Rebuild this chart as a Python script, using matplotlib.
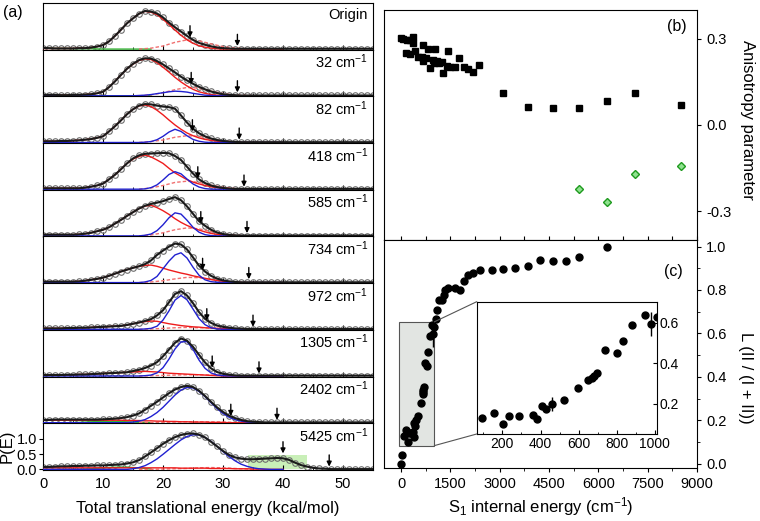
import matplotlib.pyplot as plt
from matplotlib.ticker import MultipleLocator
from matplotlib.patches import Rectangle, ConnectionPatch

plt.rcParams['font.family'] = ['Liberation Sans', 'DejaVu Sans']
plt.rcParams['mathtext.fontset'] = 'custom'
plt.rcParams['mathtext.rm'] = 'Liberation Sans'
plt.rcParams['mathtext.it'] = 'Liberation Sans:italic'

# ---------------- panel (a): P(E) distributions ----------------
labels_a = ['Origin', '32 cm$^{-1}$', '82 cm$^{-1}$', '418 cm$^{-1}$', '585 cm$^{-1}$',
            '734 cm$^{-1}$', '972 cm$^{-1}$', '1305 cm$^{-1}$', '2402 cm$^{-1}$', '5425 cm$^{-1}$']

e_tot = list(range(56))     # kcal/mol, data points + total fit
e_comp = list(range(41))    # red / blue components
e_dash = list(range(16, 38, 2))
e_green = list(range(0, 20, 2))

tot = [
    [0.04, 0.03, 0.02, 0.02, 0.02, 0.02, 0.03, 0.03, 0.05, 0.08,
     0.13, 0.25, 0.43, 0.63, 0.84, 1.00, 1.15, 1.24, 1.22, 1.16,
     1.03, 0.86, 0.71, 0.57, 0.43, 0.30, 0.20, 0.14, 0.09, 0.05,
     0.03, 0.02, 0.01, 0.01, 0.01, 0.01, 0.01, 0.01, 0.01, 0.01,
     0.01, 0.01, 0.01, 0.01, 0.01, 0.01, 0.01, 0.01, 0.01, 0.01,
     0.01, 0.01, 0.01, 0.01, 0.01, 0.01],
    [0.03, 0.03, 0.03, 0.02, 0.02, 0.03, 0.03, 0.04, 0.05, 0.08,
     0.13, 0.28, 0.47, 0.68, 0.88, 1.04, 1.16, 1.22, 1.21, 1.13,
     1.02, 0.89, 0.76, 0.62, 0.50, 0.39, 0.29, 0.21, 0.14, 0.09,
     0.05, 0.03, 0.02, 0.01, 0.01, 0.01, 0.01, 0.01, 0.01, 0.01,
     0.01, 0.01, 0.01, 0.01, 0.01, 0.01, 0.01, 0.01, 0.01, 0.01,
     0.01, 0.01, 0.01, 0.01, 0.01, 0.01],
    [0.04, 0.04, 0.04, 0.05, 0.05, 0.06, 0.07, 0.09, 0.11, 0.15,
     0.20, 0.36, 0.53, 0.72, 0.92, 1.08, 1.20, 1.25, 1.24, 1.20,
     1.17, 1.15, 1.10, 0.88, 0.65, 0.45, 0.30, 0.20, 0.13, 0.08,
     0.05, 0.03, 0.02, 0.01, 0.01, 0.01, 0.01, 0.01, 0.01, 0.01,
     0.01, 0.01, 0.01, 0.01, 0.01, 0.01, 0.01, 0.01, 0.01, 0.01,
     0.01, 0.01, 0.01, 0.01, 0.01, 0.01],
    [0.03, 0.03, 0.03, 0.03, 0.03, 0.03, 0.03, 0.05, 0.08, 0.12,
     0.18, 0.32, 0.47, 0.65, 0.84, 1.00, 1.10, 1.15, 1.16, 1.17,
     1.18, 1.17, 1.08, 0.95, 0.73, 0.51, 0.32, 0.20, 0.12, 0.07,
     0.04, 0.02, 0.01, 0.01, 0.01, 0.01, 0.01, 0.01, 0.01, 0.01,
     0.01, 0.01, 0.01, 0.01, 0.01, 0.01, 0.01, 0.01, 0.01, 0.01,
     0.01, 0.01, 0.01, 0.01, 0.01, 0.01],
    [0.04, 0.04, 0.04, 0.04, 0.04, 0.04, 0.05, 0.07, 0.10, 0.15,
     0.20, 0.28, 0.40, 0.52, 0.65, 0.77, 0.89, 0.98, 1.04, 1.08,
     1.13, 1.20, 1.26, 1.16, 0.96, 0.72, 0.48, 0.33, 0.20, 0.11,
     0.06, 0.03, 0.02, 0.01, 0.01, 0.01, 0.01, 0.01, 0.01, 0.01,
     0.01, 0.01, 0.01, 0.01, 0.01, 0.01, 0.01, 0.01, 0.01, 0.01,
     0.01, 0.01, 0.01, 0.01, 0.01, 0.01],
    [0.03, 0.03, 0.03, 0.03, 0.03, 0.03, 0.04, 0.06, 0.09, 0.12,
     0.16, 0.22, 0.29, 0.36, 0.42, 0.48, 0.53, 0.60, 0.72, 0.90,
     1.04, 1.17, 1.27, 1.24, 1.08, 0.82, 0.55, 0.36, 0.22, 0.13,
     0.07, 0.04, 0.02, 0.01, 0.01, 0.01, 0.01, 0.01, 0.01, 0.01,
     0.01, 0.01, 0.01, 0.01, 0.01, 0.01, 0.01, 0.01, 0.01, 0.01,
     0.01, 0.01, 0.01, 0.01, 0.01, 0.01],
    [0.03, 0.03, 0.03, 0.03, 0.04, 0.04, 0.05, 0.05, 0.06, 0.07,
     0.08, 0.09, 0.10, 0.11, 0.14, 0.18, 0.22, 0.27, 0.33, 0.45,
     0.62, 0.88, 1.15, 1.24, 1.10, 0.85, 0.56, 0.34, 0.21, 0.12,
     0.08, 0.05, 0.03, 0.02, 0.01, 0.01, 0.01, 0.01, 0.01, 0.01,
     0.01, 0.01, 0.01, 0.01, 0.01, 0.01, 0.01, 0.01, 0.01, 0.01,
     0.01, 0.01, 0.01, 0.01, 0.01, 0.01],
    [0.03, 0.03, 0.03, 0.03, 0.04, 0.04, 0.05, 0.05, 0.06, 0.07,
     0.08, 0.09, 0.10, 0.11, 0.12, 0.16, 0.20, 0.26, 0.34, 0.45,
     0.64, 0.86, 1.08, 1.22, 1.15, 0.95, 0.69, 0.44, 0.25, 0.13,
     0.07, 0.04, 0.02, 0.01, 0.01, 0.01, 0.01, 0.01, 0.01, 0.01,
     0.01, 0.01, 0.01, 0.01, 0.01, 0.01, 0.01, 0.01, 0.01, 0.01,
     0.01, 0.01, 0.01, 0.01, 0.01, 0.01],
    [0.09, 0.09, 0.10, 0.10, 0.10, 0.10, 0.10, 0.10, 0.10, 0.10,
     0.11, 0.12, 0.13, 0.15, 0.18, 0.23, 0.30, 0.42, 0.55, 0.68,
     0.82, 0.96, 1.08, 1.16, 1.20, 1.16, 1.04, 0.87, 0.68, 0.50,
     0.35, 0.23, 0.15, 0.09, 0.05, 0.03, 0.02, 0.01, 0.01, 0.01,
     0.01, 0.01, 0.01, 0.01, 0.01, 0.01, 0.01, 0.01, 0.01, 0.01,
     0.01, 0.01, 0.01, 0.01, 0.01, 0.01],
    [0.08, 0.08, 0.09, 0.10, 0.10, 0.11, 0.11, 0.12, 0.12, 0.13,
     0.13, 0.14, 0.15, 0.16, 0.19, 0.23, 0.30, 0.42, 0.55, 0.69,
     0.83, 0.95, 1.05, 1.12, 1.16, 1.17, 1.13, 1.04, 0.90, 0.75,
     0.60, 0.47, 0.39, 0.35, 0.33, 0.33, 0.34, 0.35, 0.36, 0.37,
     0.36, 0.31, 0.22, 0.14, 0.09, 0.05, 0.03, 0.02, 0.01, 0.01,
     0.01, 0.01, 0.01, 0.01, 0.01, 0.01],
]

red = [
    [0.02, 0.02, 0.02, 0.02, 0.02, 0.02, 0.03, 0.03, 0.05, 0.08,
     0.13, 0.25, 0.43, 0.63, 0.84, 1.00, 1.15, 1.23, 1.20, 1.12,
     0.97, 0.80, 0.62, 0.45, 0.30, 0.19, 0.11, 0.06, 0.03, 0.01,
     0, 0, 0, 0, 0, 0, 0, 0, 0, 0, 0],
    [0.02, 0.02, 0.02, 0.02, 0.02, 0.02, 0.03, 0.04, 0.05, 0.08,
     0.13, 0.28, 0.47, 0.68, 0.88, 1.03, 1.15, 1.20, 1.18, 1.08,
     0.93, 0.77, 0.60, 0.45, 0.32, 0.21, 0.13, 0.08, 0.04, 0.02,
     0.01, 0, 0, 0, 0, 0, 0, 0, 0, 0, 0],
    [0.04, 0.04, 0.04, 0.05, 0.05, 0.06, 0.07, 0.09, 0.11, 0.15,
     0.20, 0.36, 0.53, 0.72, 0.92, 1.08, 1.19, 1.22, 1.17, 1.05,
     0.90, 0.73, 0.57, 0.43, 0.31, 0.22, 0.15, 0.10, 0.07, 0.04,
     0.03, 0.02, 0.01, 0, 0, 0, 0, 0, 0, 0, 0],
    [0.03, 0.03, 0.03, 0.03, 0.03, 0.03, 0.03, 0.05, 0.08, 0.12,
     0.18, 0.32, 0.47, 0.65, 0.84, 0.98, 1.07, 1.11, 1.05, 0.95,
     0.84, 0.68, 0.53, 0.42, 0.31, 0.23, 0.17, 0.12, 0.08, 0.05,
     0.03, 0.02, 0.01, 0, 0, 0, 0, 0, 0, 0, 0],
    [0.04, 0.04, 0.04, 0.04, 0.04, 0.04, 0.05, 0.07, 0.10, 0.15,
     0.20, 0.28, 0.40, 0.52, 0.65, 0.77, 0.89, 0.97, 1.00, 0.92,
     0.82, 0.70, 0.56, 0.44, 0.34, 0.26, 0.19, 0.13, 0.08, 0.05,
     0.03, 0.02, 0.01, 0, 0, 0, 0, 0, 0, 0, 0],
    [0.03, 0.03, 0.03, 0.03, 0.03, 0.03, 0.04, 0.06, 0.09, 0.12,
     0.16, 0.22, 0.29, 0.36, 0.42, 0.48, 0.53, 0.56, 0.57, 0.53,
     0.47, 0.41, 0.36, 0.31, 0.27, 0.22, 0.18, 0.14, 0.10, 0.07,
     0.04, 0.02, 0.01, 0, 0, 0, 0, 0, 0, 0, 0],
    [0.03, 0.03, 0.03, 0.03, 0.04, 0.04, 0.05, 0.05, 0.06, 0.07,
     0.08, 0.09, 0.10, 0.11, 0.14, 0.18, 0.22, 0.25, 0.27, 0.26,
     0.22, 0.18, 0.15, 0.12, 0.10, 0.08, 0.07, 0.05, 0.04, 0.03,
     0.02, 0.01, 0, 0, 0, 0, 0, 0, 0, 0, 0],
    [0.03, 0.03, 0.03, 0.03, 0.04, 0.04, 0.05, 0.05, 0.06, 0.07,
     0.08, 0.09, 0.10, 0.11, 0.12, 0.13, 0.14, 0.15, 0.14, 0.13,
     0.11, 0.09, 0.08, 0.07, 0.06, 0.05, 0.04, 0.03, 0.02, 0.01,
     0, 0, 0, 0, 0, 0, 0, 0, 0, 0, 0],
    [0.08, 0.08, 0.08, 0.08, 0.08, 0.08, 0.08, 0.08, 0.08, 0.08,
     0.08, 0.08, 0.08, 0.08, 0.07, 0.07, 0.07, 0.06, 0.06, 0.05,
     0.05, 0.04, 0.04, 0.03, 0.03, 0.02, 0.02, 0.02, 0.01, 0.01,
     0.01, 0, 0, 0, 0, 0, 0, 0, 0, 0, 0],
    [0.05, 0.05, 0.05, 0.05, 0.05, 0.05, 0.05, 0.05, 0.05, 0.05,
     0.05, 0.05, 0.05, 0.05, 0.05, 0.05, 0.05, 0.05, 0.05, 0.05,
     0.05, 0.05, 0.05, 0.04, 0.04, 0.04, 0.04, 0.04, 0.03, 0.03,
     0.03, 0.03, 0.02, 0.02, 0.02, 0.01, 0.01, 0, 0, 0, 0],
]

blue = [
    None,
    [0, 0, 0, 0, 0, 0, 0, 0, 0, 0,
     0, 0, 0, 0, 0, 0, 0.01, 0.02, 0.04, 0.07,
     0.10, 0.13, 0.15, 0.14, 0.12, 0.08, 0.05, 0.02, 0.01, 0,
     0, 0, 0, 0, 0, 0, 0, 0, 0, 0, 0],
    [0, 0, 0, 0, 0, 0, 0, 0, 0, 0,
     0, 0, 0, 0, 0, 0, 0, 0.01, 0.03, 0.09,
     0.20, 0.34, 0.43, 0.36, 0.22, 0.10, 0.04, 0.01, 0, 0,
     0, 0, 0, 0, 0, 0, 0, 0, 0, 0, 0],
    [0, 0, 0, 0, 0, 0, 0, 0, 0, 0,
     0, 0, 0, 0, 0, 0, 0, 0.01, 0.05, 0.14,
     0.30, 0.48, 0.57, 0.50, 0.33, 0.17, 0.07, 0.02, 0, 0,
     0, 0, 0, 0, 0, 0, 0, 0, 0, 0, 0],
    [0, 0, 0, 0, 0, 0, 0, 0, 0, 0,
     0, 0, 0, 0, 0, 0, 0, 0.02, 0.06, 0.17,
     0.36, 0.59, 0.75, 0.71, 0.51, 0.28, 0.12, 0.04, 0.01, 0,
     0, 0, 0, 0, 0, 0, 0, 0, 0, 0, 0],
    [0, 0, 0, 0, 0, 0, 0, 0, 0, 0,
     0, 0, 0, 0, 0, 0, 0, 0.02, 0.07, 0.20,
     0.45, 0.70, 0.90, 0.97, 0.80, 0.50, 0.24, 0.09, 0.03, 0.01,
     0, 0, 0, 0, 0, 0, 0, 0, 0, 0, 0],
    [0, 0, 0, 0, 0, 0, 0, 0, 0, 0,
     0, 0, 0, 0, 0, 0, 0, 0.01, 0.03, 0.10,
     0.30, 0.60, 0.95, 1.10, 0.96, 0.66, 0.35, 0.15, 0.05, 0.01,
     0, 0, 0, 0, 0, 0, 0, 0, 0, 0, 0],
    [0, 0, 0, 0, 0, 0, 0, 0, 0, 0,
     0, 0, 0, 0, 0, 0, 0, 0.01, 0.03, 0.10,
     0.27, 0.55, 0.88, 1.11, 1.12, 0.87, 0.52, 0.25, 0.10, 0.03,
     0.01, 0, 0, 0, 0, 0, 0, 0, 0, 0, 0],
    [0, 0, 0, 0, 0, 0, 0, 0, 0, 0,
     0, 0, 0, 0, 0, 0.02, 0.05, 0.10, 0.20, 0.33,
     0.50, 0.70, 0.90, 1.06, 1.15, 1.13, 1.02, 0.85, 0.65, 0.46,
     0.30, 0.18, 0.10, 0.05, 0.02, 0.01, 0, 0, 0, 0, 0],
    [0, 0, 0, 0, 0, 0, 0, 0, 0, 0,
     0, 0, 0, 0, 0, 0.02, 0.06, 0.12, 0.22, 0.34,
     0.49, 0.65, 0.81, 0.96, 1.07, 1.13, 1.12, 1.04, 0.91, 0.75,
     0.58, 0.42, 0.28, 0.17, 0.10, 0.05, 0.02, 0.01, 0, 0, 0],
]

dashed = [
    [0, 0.03, 0.10, 0.22, 0.30, 0.27, 0.17, 0.08, 0.03, 0.01, 0],
    [0, 0.03, 0.10, 0.20, 0.27, 0.25, 0.15, 0.07, 0.02, 0.01, 0],
    [0, 0.03, 0.08, 0.17, 0.22, 0.20, 0.12, 0.05, 0.02, 0, 0],
    [0, 0.04, 0.12, 0.22, 0.26, 0.22, 0.13, 0.06, 0.02, 0, 0],
    [0, 0.03, 0.10, 0.20, 0.26, 0.23, 0.14, 0.06, 0.02, 0, 0],
    [0, 0.02, 0.06, 0.12, 0.17, 0.16, 0.10, 0.05, 0.02, 0, 0],
    [0, 0.01, 0.03, 0.05, 0.06, 0.05, 0.04, 0.02, 0.01, 0, 0],
    [0, 0.01, 0.02, 0.03, 0.04, 0.04, 0.03, 0.02, 0.01, 0, 0],
    [0, 0, 0.01, 0.02, 0.03, 0.03, 0.03, 0.02, 0.01, 0, 0],
    [0, 0, 0.01, 0.02, 0.03, 0.05, 0.06, 0.05, 0.03, 0.01, 0],
]

green = [
    [0.03, 0.02, 0.02, 0.01, 0.01, 0, 0, 0, 0, 0],
    [0.02, 0.02, 0.01, 0, 0, 0, 0, 0, 0, 0],
    None, None, None, None, None, None,
    [0, 0, 0, 0.01, 0.03, 0.04, 0.04, 0.03, 0.01, 0],
    [0, 0, 0, 0, 0.02, 0.05, 0.07, 0.07, 0.05, 0.01],
]

arrow1_e = [24.5, 24.7, 24.9, 25.8, 26.3, 26.6, 27.3, 28.2, 31.3, 40.0]
arrow1_y = [0.38, 0.38, 0.36, 0.35, 0.41, 0.41, 0.29, 0.27, 0.22, 0.52]
arrow2_e = [32.4, 32.4, 32.7, 33.5, 34.0, 34.3, 35.0, 36.0, 39.0, 47.7]
arrow2_y = [0.10, 0.11, 0.09, 0.08, 0.09, 0.11, 0.08, 0.08, 0.09, 0.09]

green_box = (34.2, 44.0, 0.47)   # E from, E to, height (5425 cm-1 panel)

# ---------------- panel (b): anisotropy ----------------
b_e = [0, 71, 172, 274, 375, 355, 152, 274, 426, 527, 628, 679, 760, 659, 831,
       1034, 882, 963, 1004, 1085, 1165, 1237, 1287, 1389, 1439, 1490, 1642, 1773,
       1915, 2047, 2180, 2381, 3110, 3851, 4611, 5421, 6253, 7124, 8503]
b_val = [0.302, 0.300, 0.296, 0.294, 0.306, 0.285, 0.250, 0.248, 0.256, 0.238,
         0.236, 0.221, 0.233, 0.277, 0.264, 0.265, 0.198, 0.227, 0.217, 0.221,
         0.215, 0.219, 0.180, 0.206, 0.256, 0.203, 0.201, 0.233, 0.201, 0.194,
         0.186, 0.208, 0.111, 0.064, 0.058, 0.060, 0.084, 0.111, 0.070]
g_e = [5421, 6253, 7124, 8503]
g_val = [-0.221, -0.267, -0.169, -0.142]

# ---------------- panel (c): branching ----------------
c_e = [0, 40, 95, 158, 205, 235, 288, 362, 383, 406, 429, 462, 525, 597, 651, 668,
       680, 695, 738, 799, 831, 881, 949, 979, 1009, 1054, 1085, 1155, 1237, 1307,
       1338, 1439, 1642, 1794, 1925, 2047, 2199, 2402, 2756, 3110, 3466, 3851, 4226,
       4611, 5016, 5421, 6253]
c_l = [0.0, 0.038, 0.129, 0.154, 0.100, 0.139, 0.141, 0.146, 0.124, 0.187, 0.175,
       0.200, 0.220, 0.278, 0.319, 0.329, 0.340, 0.352, 0.464, 0.451, 0.513, 0.588,
       0.639, 0.595, 0.631, 0.668, 0.706, 0.755, 0.755, 0.775, 0.798, 0.810, 0.810,
       0.801, 0.841, 0.867, 0.878, 0.894, 0.893, 0.897, 0.900, 0.908, 0.940, 0.931,
       0.931, 0.951, 1.000]
c_err = [0, 0, 0, 0, 0, 0, 0, 0, 0, 0, 0, 0.033, 0, 0, 0, 0, 0, 0, 0, 0, 0, 0, 0,
         0.06, 0, 0, 0, 0, 0, 0, 0, 0, 0, 0, 0, 0, 0, 0, 0, 0, 0, 0, 0, 0, 0, 0, 0]

W, H = 760, 521
fig = plt.figure(figsize=(W / 100, H / 100), dpi=100)


def px_axes(left, top, right, bottom):
    return fig.add_axes([left / W, 1 - bottom / H, (right - left) / W, (bottom - top) / H])


n = len(labels_a)
step = (470 - 3) / n
for i in range(n):
    top = 3 + i * step
    ax = px_axes(43, top, 373, top + step)
    ax.set_xlim(0, 55)
    ax.set_ylim(-0.02, 1.5)
    if i == n - 1:
        ax.axvspan(green_box[0], green_box[1], ymin=0.02 / 1.52, ymax=(green_box[2] + 0.02) / 1.52,
                   color='#c9efb8', lw=0, zorder=1)
    ax.plot(e_tot, tot[i], 'o', ms=4, mfc='none', mec='#6e6e6e', mew=0.8, zorder=2)
    if green[i] is not None:
        ax.plot(e_green, green[i], color='#35b335', lw=1, zorder=3)
    ax.plot(e_dash, dashed[i], color='#f07070', lw=1, ls=(0, (2.5, 1.5)), zorder=3)
    ax.plot(e_comp, red[i], color='#ee1c1c', lw=1, zorder=3)
    if blue[i] is not None:
        ax.plot(e_comp, blue[i], color='#2020d0', lw=1, zorder=3)
    ax.plot(e_tot, tot[i], color='#1a1a1a', lw=1.5, zorder=4)
    for xe, ye in ((arrow1_e[i], arrow1_y[i]), (arrow2_e[i], arrow2_y[i])):
        ax.annotate('', xy=(xe, ye), xytext=(xe, ye + 0.38),
                    arrowprops=dict(arrowstyle='-|>', color='k', lw=1, mutation_scale=7,
                                    shrinkA=0, shrinkB=0), zorder=5)
    ax.text(0.985, 0.74, labels_a[i], transform=ax.transAxes, ha='right', va='center',
            fontsize=10.5)
    ax.xaxis.set_major_locator(MultipleLocator(10))
    ax.xaxis.set_minor_locator(MultipleLocator(5))
    ax.tick_params(axis='x', which='both', direction='in', labelsize=10.5, pad=5)
    ax.tick_params(axis='x', which='major', length=3.5)
    ax.tick_params(axis='x', which='minor', length=2)
    if i < n - 1:
        ax.tick_params(axis='x', labelbottom=False)
        ax.set_yticks([])
    else:
        ax.set_yticks([0, 0.5, 1.0])
        ax.set_yticklabels(['0.0', '0.5', '1.0'])
        ax.tick_params(axis='y', direction='out', length=3, labelsize=10.5, pad=1.5)
        ax.set_ylabel('P(E)', fontsize=12, labelpad=1)
        ax.set_xlabel('Total translational energy (kcal/mol)', fontsize=12, labelpad=7)

fig.text(13 / W, 1 - 13 / H, '(a)', fontsize=11.5, ha='center', va='center')

# ---------------- panel (b) ----------------
axb = px_axes(384, 10, 697, 240)
axb.plot(b_e, b_val, 's', color='k', ms=4.5)
axb.plot(g_e, g_val, 'D', mfc='#8fe28f', mec='#1e9a1e', mew=1, ms=4.5)
axb.set_xlim(-520, 9000)
axb.set_ylim(-0.4, 0.4)
axb.yaxis.tick_right()
axb.set_yticks([-0.3, 0.0, 0.3])
axb.set_yticklabels(['-0.3', '0.0', '0.3'])
axb.tick_params(axis='y', direction='out', length=3, labelsize=10.5)
axb.xaxis.set_major_locator(MultipleLocator(750))
axb.tick_params(axis='x', direction='in', length=3, labelbottom=False)
axb.text(0.935, 0.93, '(b)', transform=axb.transAxes, ha='center', va='center', fontsize=11.5)
fig.text(748 / W, 1 - 120 / H, 'Anisotropy parameter', rotation=270, ha='center',
         va='center', fontsize=12)

# ---------------- panel (c) ----------------
axc = px_axes(384, 240, 697, 468)
axc.add_patch(Rectangle((-60, 0.083), 1070, 0.57, facecolor='#e2e5e2', edgecolor='#555555',
                        lw=0.8, zorder=1))
axc.errorbar(c_e, c_l, yerr=c_err, fmt='o', color='k', ms=5, elinewidth=1, capsize=0,
             zorder=3)
axc.set_xlim(-520, 9000)
axc.set_ylim(-0.02, 1.03)
axc.set_xticks(range(0, 9001, 1500))
axc.xaxis.set_minor_locator(MultipleLocator(750))
axc.yaxis.tick_right()
axc.set_yticks([0, 0.2, 0.4, 0.6, 0.8, 1.0])
axc.set_yticklabels(['0.0', '0.2', '0.4', '0.6', '0.8', '1.0'])
axc.yaxis.set_minor_locator(MultipleLocator(0.1))
axc.tick_params(which='both', direction='out', labelsize=10.5)
axc.tick_params(which='major', length=3)
axc.tick_params(which='minor', length=2)
axc.set_xlabel('S$_1$ internal energy (cm$^{-1}$)', fontsize=12, labelpad=3)
axc.text(0.925, 0.86, '(c)', transform=axc.transAxes, ha='center', va='center', fontsize=11.5)
fig.text(745 / W, 1 - 378 / H, 'L (II / (I + II))', rotation=270, ha='center', va='center',
         fontsize=12)

# inset
axi = px_axes(476.7, 301.7, 656.7, 434)
axi.errorbar(c_e, c_l, yerr=c_err, fmt='o', color='k', ms=5, elinewidth=1, capsize=0)
axi.set_xlim(65, 1010)
axi.set_ylim(0.051, 0.705)
axi.set_xticks([200, 400, 600, 800, 1000])
axi.xaxis.set_minor_locator(MultipleLocator(100))
axi.yaxis.tick_right()
axi.set_yticks([0.2, 0.4, 0.6])
axi.tick_params(which='both', direction='in', labelsize=10, pad=2)
axi.tick_params(which='major', length=3)
axi.tick_params(which='minor', length=1.5)
for ya, yb in ((0.653, 1.0), (0.083, 0.0)):
    con = ConnectionPatch(xyA=(1010, ya), coordsA=axc.transData, xyB=(0, yb),
                          coordsB=axi.transAxes, color='#555555', lw=0.8)
    fig.add_artist(con)

fig.savefig('out.png', dpi=100)
